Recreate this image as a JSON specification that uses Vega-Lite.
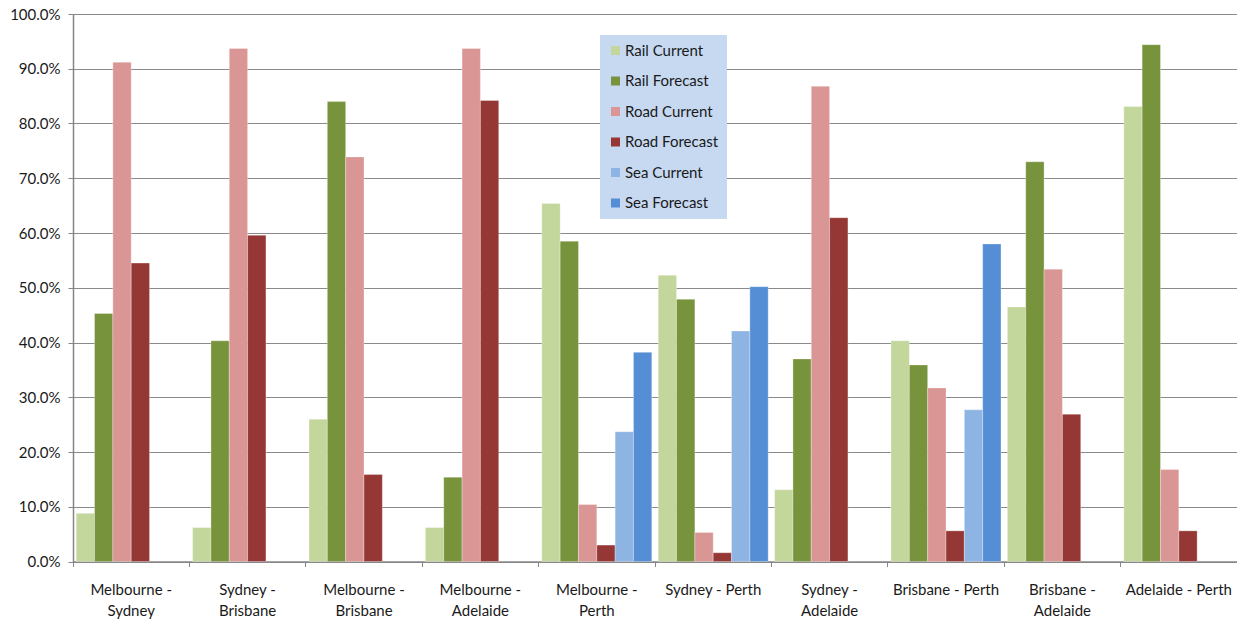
{
  "$schema": "https://vega.github.io/schema/vega-lite/v6.json",
  "width": 1164,
  "height": 547.5,
  "autosize": {"type": "none"},
  "padding": {"left": 73, "top": 14, "right": 0, "bottom": 59.5},
  "background": "white",
  "config": {
    "font": "Lato",
    "view": {"stroke": null}
  },
  "data": {
    "values": [
      {"route": "Melbourne - Sydney", "mode": "Rail Current", "share": 0.088},
      {"route": "Melbourne - Sydney", "mode": "Rail Forecast", "share": 0.453},
      {"route": "Melbourne - Sydney", "mode": "Road Current", "share": 0.912},
      {"route": "Melbourne - Sydney", "mode": "Road Forecast", "share": 0.545},
      {"route": "Sydney - Brisbane", "mode": "Rail Current", "share": 0.062},
      {"route": "Sydney - Brisbane", "mode": "Rail Forecast", "share": 0.403},
      {"route": "Sydney - Brisbane", "mode": "Road Current", "share": 0.937},
      {"route": "Sydney - Brisbane", "mode": "Road Forecast", "share": 0.596},
      {"route": "Melbourne - Brisbane", "mode": "Rail Current", "share": 0.26},
      {"route": "Melbourne - Brisbane", "mode": "Rail Forecast", "share": 0.84},
      {"route": "Melbourne - Brisbane", "mode": "Road Current", "share": 0.739},
      {"route": "Melbourne - Brisbane", "mode": "Road Forecast", "share": 0.159},
      {"route": "Melbourne - Adelaide", "mode": "Rail Current", "share": 0.062},
      {"route": "Melbourne - Adelaide", "mode": "Rail Forecast", "share": 0.154},
      {"route": "Melbourne - Adelaide", "mode": "Road Current", "share": 0.937},
      {"route": "Melbourne - Adelaide", "mode": "Road Forecast", "share": 0.842},
      {"route": "Melbourne - Perth", "mode": "Rail Current", "share": 0.654},
      {"route": "Melbourne - Perth", "mode": "Rail Forecast", "share": 0.585},
      {"route": "Melbourne - Perth", "mode": "Road Current", "share": 0.104},
      {"route": "Melbourne - Perth", "mode": "Road Forecast", "share": 0.03},
      {"route": "Melbourne - Perth", "mode": "Sea Current", "share": 0.237},
      {"route": "Melbourne - Perth", "mode": "Sea Forecast", "share": 0.382},
      {"route": "Sydney - Perth", "mode": "Rail Current", "share": 0.523},
      {"route": "Sydney - Perth", "mode": "Rail Forecast", "share": 0.479},
      {"route": "Sydney - Perth", "mode": "Road Current", "share": 0.053},
      {"route": "Sydney - Perth", "mode": "Road Forecast", "share": 0.016},
      {"route": "Sydney - Perth", "mode": "Sea Current", "share": 0.421},
      {"route": "Sydney - Perth", "mode": "Sea Forecast", "share": 0.502},
      {"route": "Sydney - Adelaide", "mode": "Rail Current", "share": 0.131},
      {"route": "Sydney - Adelaide", "mode": "Rail Forecast", "share": 0.37},
      {"route": "Sydney - Adelaide", "mode": "Road Current", "share": 0.868},
      {"route": "Sydney - Adelaide", "mode": "Road Forecast", "share": 0.628},
      {"route": "Brisbane - Perth", "mode": "Rail Current", "share": 0.403},
      {"route": "Brisbane - Perth", "mode": "Rail Forecast", "share": 0.359},
      {"route": "Brisbane - Perth", "mode": "Road Current", "share": 0.317},
      {"route": "Brisbane - Perth", "mode": "Road Forecast", "share": 0.056},
      {"route": "Brisbane - Perth", "mode": "Sea Current", "share": 0.277},
      {"route": "Brisbane - Perth", "mode": "Sea Forecast", "share": 0.58},
      {"route": "Brisbane - Adelaide", "mode": "Rail Current", "share": 0.465},
      {"route": "Brisbane - Adelaide", "mode": "Rail Forecast", "share": 0.73},
      {"route": "Brisbane - Adelaide", "mode": "Road Current", "share": 0.534},
      {"route": "Brisbane - Adelaide", "mode": "Road Forecast", "share": 0.269},
      {"route": "Adelaide - Perth", "mode": "Rail Current", "share": 0.831},
      {"route": "Adelaide - Perth", "mode": "Rail Forecast", "share": 0.944},
      {"route": "Adelaide - Perth", "mode": "Road Current", "share": 0.168},
      {"route": "Adelaide - Perth", "mode": "Road Forecast", "share": 0.056}
    ]
  },
  "mark": {"type": "bar", "stroke": "white", "strokeWidth": 0.5, "strokeOpacity": 0.6},
  "encoding": {
    "x": {
      "field": "route",
      "type": "nominal",
      "sort": null,
      "scale": {"paddingInner": 0, "paddingOuter": 0},
      "axis": {
        "title": null,
        "labelAngle": 0,
        "bandPosition": 0,
        "labelFontSize": 15,
        "labelColor": "#1a1a1a",
        "labelPadding": 16,
        "labelLineHeight": 20.5,
        "labelBaseline": "top",
        "labelExpr": "length(datum.label) > 16 ? [slice(datum.label, 0, indexof(datum.label, ' - ') + 2), slice(datum.label, indexof(datum.label, ' - ') + 3)] : datum.label",
        "domainColor": "#868686",
        "domainWidth": 1.5,
        "tickColor": "#868686",
        "tickSize": 5,
        "grid": false
      }
    },
    "xOffset": {
      "field": "mode",
      "type": "nominal",
      "scale": {"domain": ["Rail Current", "Rail Forecast", "Road Current", "Road Forecast", "Sea Current", "Sea Forecast"], "paddingInner": 0, "paddingOuter": 0.175}
    },
    "y": {
      "field": "share",
      "type": "quantitative",
      "scale": {"domain": [0, 1], "nice": false},
      "axis": {
        "title": null,
        "values": [0, 0.1, 0.2, 0.3, 0.4, 0.5, 0.6, 0.7, 0.8, 0.9, 1.0],
        "format": ".1%",
        "labelFontSize": 15,
        "labelColor": "#1a1a1a",
        "labelPadding": 8,
        "domainColor": "#868686",
        "domainWidth": 1.5,
        "tickColor": "#868686",
        "tickSize": 5,
        "gridColor": "#8a8a8a",
        "gridWidth": 1.2
      }
    },
    "color": {
      "field": "mode",
      "type": "nominal",
      "scale": {
        "domain": ["Rail Current", "Rail Forecast", "Road Current", "Road Forecast", "Sea Current", "Sea Forecast"],
        "range": ["#C3D69B", "#77933C", "#D99694", "#953735", "#8EB4E3", "#558ED5"]
      },
      "legend": {
        "title": null,
        "orient": "none",
        "legendX": 527,
        "legendY": 21,
        "fillColor": "#C6D9F1",
        "padding": 8,
        "rowPadding": 14.5,
        "symbolType": "square",
        "symbolSize": 81,
        "symbolStrokeWidth": 0,
        "labelFontSize": 15,
        "labelColor": "#1a1a1a",
        "labelOffset": 2
      }
    }
  }
}
